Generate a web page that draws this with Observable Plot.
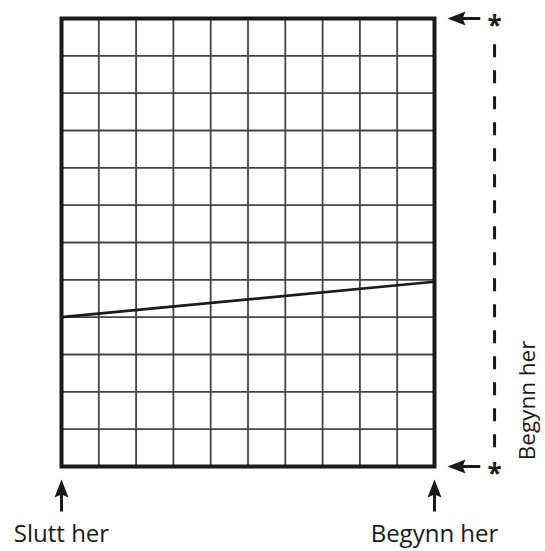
<!DOCTYPE html>
<html><head><meta charset="utf-8">
<script src="https://cdn.jsdelivr.net/npm/d3@7"></script>
<script src="https://cdn.jsdelivr.net/npm/@observablehq/plot@0.6"></script>
<style>body{margin:0;background:#fff} svg{overflow:visible}</style>
</head><body><div id="chart"></div>
<script>
// grid size
const columns = 10;
const rows = 12;
// the straight line (left end, right end) in grid units
const lineXs = [0, 10];
const lineYs = [4.0, 4.95];
// labels
const bottomLabels = ["Slutt her", "Begynn her"];
const bottomLabelXs = [0, 10];
const sideLabel = "Begynn her";
// horizontal arrows at the right (levels)
const sideArrowYs = [12, 0];
// vertical arrows below (positions)
const bottomArrowXs = [0, 10];

const colXs = d3.range(1, columns);
const rowYs = d3.range(1, rows);
const lineData = lineXs.map((x, i) => ({x, y: lineYs[i]}));

// arrowhead: tip at origin, body extends downward
const arrowHead = {
  draw(ctx) {
    ctx.moveTo(0, 0);
    ctx.lineTo(7, 18);
    ctx.lineTo(0, 15);
    ctx.lineTo(-7, 18);
    ctx.closePath();
  }
};

const ink = "#1a1a1a";
const font = "Open Sans";

const chart = Plot.plot({
  width: 545,
  height: 551,
  marginLeft: 61,
  marginRight: 111,
  marginTop: 18,
  marginBottom: 85,
  x: {domain: [0, columns], axis: null},
  y: {domain: [0, rows], axis: null},
  style: {fontFamily: font, background: "#fff"},
  marks: [
    Plot.ruleX(colXs, {stroke: "#444", strokeWidth: 1.8}),
    Plot.ruleY(rowYs, {stroke: "#444", strokeWidth: 1.8}),
    Plot.frame({stroke: ink, strokeWidth: 4}),
    Plot.line(lineData, {x: "x", y: "y", stroke: ink, strokeWidth: 2.6}),
    // right side arrows pointing left
    Plot.ruleY(sideArrowYs, {x1: columns + 0.55, x2: columns + 1.24, stroke: ink, strokeWidth: 3}),
    Plot.dot(sideArrowYs, {x: columns + 0.35, y: d => d, symbol: arrowHead, rotate: -90, fill: ink, stroke: "none"}),
    // asterisks
    Plot.text(sideArrowYs, {x: columns + 1.61, y: d => d, text: () => "*", fontSize: 26, fontWeight: "bold", fill: ink, dy: 8}),
    // dashed vertical line
    Plot.ruleX([columns + 1.61], {y1: 0.5, y2: 11.46, stroke: ink, strokeWidth: 3, strokeDasharray: "13,13"}),
    // rotated side label
    Plot.text([sideLabel], {x: columns + 2.49, y: 1.77, text: d => d, rotate: -90, fontSize: 22.5, fill: ink}),
    // bottom arrows pointing up
    Plot.ruleX(bottomArrowXs, {y1: -0.6, y2: -1.22, stroke: ink, strokeWidth: 3}),
    Plot.dot(bottomArrowXs, {x: d => d, y: -0.35, symbol: arrowHead, fill: ink, stroke: "none"}),
    // bottom labels
    Plot.text(bottomLabels, {x: (d, i) => bottomLabelXs[i], y: -1.8, text: d => d, fontSize: 24, fill: ink, dy: 1})
  ]
});
document.getElementById("chart").appendChild(chart);
</script>
</body></html>
